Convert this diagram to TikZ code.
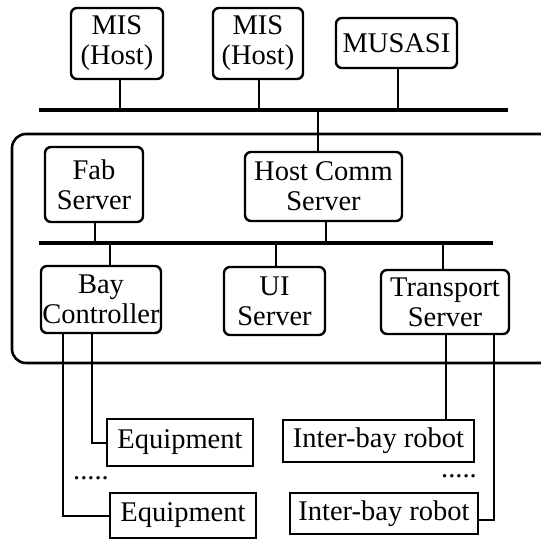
\documentclass[tikz,border=0pt]{standalone}
\usepackage{fontspec}
\setmainfont{Liberation Serif}
\begin{document}
\begin{tikzpicture}[x=1pt,y=-1pt,
  every node/.style={font=\fontsize{28.5}{30}\selectfont},
  rbox/.style={draw, line width=2.4pt, rounded corners=6pt, inner sep=0pt, align=center},
  sbox/.style={draw, line width=2.4pt, inner sep=0pt, align=center},
  bus/.style={line width=3.2pt},
  wire/.style={line width=2pt},
  frame/.style={line width=2.6pt, rounded corners=14pt}]
\useasboundingbox (0,0) rectangle (541,539);
\clip (0,0) rectangle (541,539);
% top hosts
\node[rbox, minimum width=92pt, minimum height=71pt] (mis1) at (117,43.5) {MIS\\(Host)};
\node[rbox, minimum width=90pt, minimum height=71pt] (mis2) at (258,43.5) {MIS\\(Host)};
\node[rbox, minimum width=121pt, minimum height=50pt] (musasi) at (396.5,43) {MUSASI};
% bus 1
\coordinate (b1l) at (39,110);
\coordinate (b1r) at (508,110);
\draw[bus] (b1l) -- (b1r);
% frame
\draw[frame] (560,134) -- (12,134) -- (12,363) -- (560,363);
% servers
\node[rbox, minimum width=98pt, minimum height=75pt] (fab) at (94,184.5) {Fab\\Server};
\node[rbox, minimum width=157pt, minimum height=69pt] (hcs) at (323.5,186.5) {Host Comm\\Server};
% bus 2
\coordinate (b2l) at (39,243);
\coordinate (b2r) at (493,243);
\draw[bus] (b2l) -- (b2r);
\node[rbox, minimum width=120pt, minimum height=67pt] (bay) at (101,299.5) {Bay\\Controller};
\node[rbox, minimum width=101pt, minimum height=68pt] (ui) at (274.5,301) {UI\\Server};
\node[rbox, minimum width=128pt, minimum height=64pt] (trans) at (445,302) {Transport\\Server};
% equipment and robots
\node[sbox, minimum width=146pt, minimum height=47pt] (eq1) at (180,442.5) {Equipment};
\node[sbox, minimum width=146pt, minimum height=45pt] (eq2) at (183,515.5) {Equipment};
\node[sbox, minimum width=191pt, minimum height=42pt] (ib1) at (378.5,441) {Inter-bay robot};
\node[sbox, minimum width=188pt, minimum height=41pt] (ib2) at (384,513.5) {Inter-bay robot};
\node[anchor=base, inner sep=0pt] (dl) at (91,479) {.....};
\node[anchor=base, inner sep=0pt] (dr) at (459,477) {.....};
% connectors to bus 1
\draw[wire] ([xshift=3pt]mis1.south) -- ([xshift=3pt]mis1.south |- b1l);
\draw[wire] ([xshift=1pt]mis2.south) -- ([xshift=1pt]mis2.south |- b1l);
\draw[wire] ([xshift=1.5pt]musasi.south) -- ([xshift=1.5pt]musasi.south |- b1l);
\draw[wire] ([xshift=-5.5pt]hcs.north) -- ([xshift=-5.5pt]hcs.north |- b1l);
% connectors to bus 2
\draw[wire] ([xshift=1pt]fab.south) -- ([xshift=1pt]fab.south |- b2l);
\draw[wire] ([xshift=2.5pt]hcs.south) -- ([xshift=2.5pt]hcs.south |- b2l);
\draw[wire] ([xshift=9pt]bay.north) -- ([xshift=9pt]bay.north |- b2l);
\draw[wire] ([xshift=1.5pt]ui.north) -- ([xshift=1.5pt]ui.north |- b2l);
\draw[wire] ([xshift=-2pt]trans.north) -- ([xshift=-2pt]trans.north |- b2l);
% bay controller to equipment
\draw[wire] ([xshift=-9pt]bay.south) |- (eq1.west);
\draw[wire] ([xshift=-38pt]bay.south) |- (eq2.west);
% transport to robots
\draw[wire] ([xshift=1pt]trans.south) -- ([xshift=1pt]trans.south |- ib1.north);
\draw[wire] ([xshift=49pt]trans.south) |- ([yshift=-6pt]ib2.east);
\end{tikzpicture}
\end{document}
